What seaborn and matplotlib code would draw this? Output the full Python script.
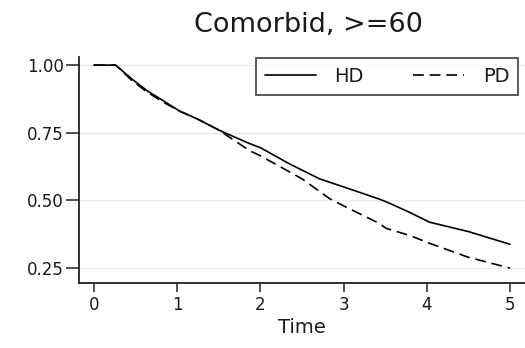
import matplotlib
matplotlib.use("Agg")
import matplotlib.pyplot as plt
import seaborn as sns
import pandas as pd
from matplotlib.lines import Line2D

# Data (survival estimates)
hd_time = [0.0, 0.26, 0.45, 0.64, 0.85, 1.03, 1.25, 1.5, 1.87, 2.0, 2.35, 2.71, 3.0, 3.43, 3.55, 3.8, 4.03, 4.5, 5.0]
hd_surv = [1.0, 1.0, 0.95, 0.905, 0.865, 0.83, 0.80, 0.76, 0.71, 0.695, 0.635, 0.58, 0.55, 0.505, 0.49, 0.455, 0.42, 0.385, 0.338]
pd_time = [0.0, 0.26, 0.45, 0.64, 0.85, 1.03, 1.25, 1.5, 1.87, 2.0, 2.5, 2.83, 3.0, 3.43, 3.51, 3.8, 4.03, 4.5, 5.0]
pd_surv = [1.0, 1.0, 0.945, 0.90, 0.86, 0.83, 0.80, 0.76, 0.684, 0.665, 0.58, 0.507, 0.48, 0.415, 0.397, 0.37, 0.342, 0.29, 0.25]

x_ticks = [0, 1, 2, 3, 4, 5]
y_ticks = [0.25, 0.50, 0.75, 1.00]
y_ticklabels = ["0.25", "0.50", "0.75", "1.00"]
title = "Comorbid, >=60"
groups = ["HD", "PD"]

df = pd.concat([
    pd.DataFrame({"Time": hd_time, "S": hd_surv, "grp": groups[0]}),
    pd.DataFrame({"Time": pd_time, "S": pd_surv, "grp": groups[1]}),
])

sns.set_theme(style="white")
plt.rcParams["font.family"] = ["DejaVu Sans"]
TXT = "#1a1a1a"

W, H = 525, 348
fig = plt.figure(figsize=(W / 100, H / 100), dpi=100)
ax = fig.add_axes([79 / W, 1 - 283 / H, (W - 79) / W, (283 - 57) / H])

DASH = (6.5, 3.5)
sns.lineplot(data=df, x="Time", y="S", hue="grp", style="grp",
             palette={"HD": "black", "PD": "black"},
             dashes={"HD": "", "PD": DASH},
             linewidth=1.2, ax=ax, legend=False, estimator=None, sort=False)

ax.set_xlim(-0.18, 5.18)
ax.set_ylim(0.195, 1.03)
ax.set_xticks(x_ticks)
ax.set_yticks(y_ticks)
ax.set_yticklabels(y_ticklabels)
ax.set_xlabel("Time", fontsize=14, labelpad=3, color=TXT)
ax.set_ylabel("")

fig.text(308 / W, 1 - 32 / H, title, ha="center", va="baseline",
         fontsize=19.5, color=TXT)

for y in y_ticks:
    ax.axhline(y, color="#ebebeb", linewidth=1.0, zorder=0)

for s in ["top", "right"]:
    ax.spines[s].set_visible(False)
for s in ["left", "bottom"]:
    ax.spines[s].set_color("#222222")
    ax.spines[s].set_linewidth(1.3)
ax.tick_params(axis="both", direction="out", width=1.1, colors="#222222",
               labelsize=12, left=True, bottom=True)
ax.tick_params(axis="y", length=9.5, pad=1.5)
ax.tick_params(axis="x", length=6.5, pad=3)
for lab in ax.get_xticklabels() + ax.get_yticklabels():
    lab.set_color(TXT)

handles = [Line2D([], [], color="black", lw=1.2),
           Line2D([], [], color="black", lw=1.2, dashes=DASH)]
leg = ax.legend(handles, groups, ncol=2, loc="upper right",
                bbox_to_anchor=(518 / W, 1 - 58 / H), bbox_transform=fig.transFigure,
                borderaxespad=0, frameon=True, fancybox=False,
                edgecolor="#222222", fontsize=14, handlelength=2.63,
                columnspacing=2.55, handletextpad=0.95, borderpad=0.45)
leg.get_frame().set_linewidth(1.3)
for t in leg.get_texts():
    t.set_color(TXT)

fig.savefig("out.png", dpi=100)
